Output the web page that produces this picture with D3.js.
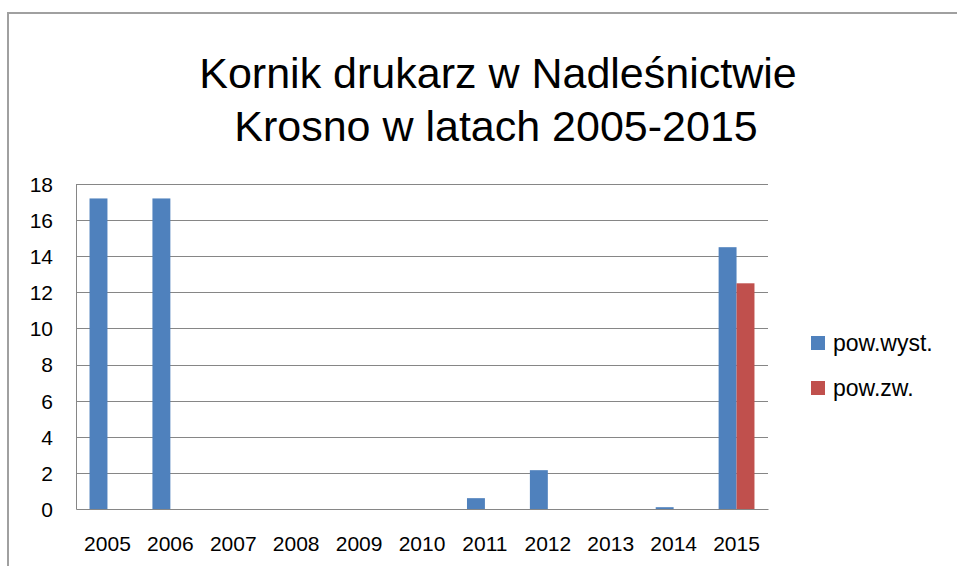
<!DOCTYPE html>
<meta charset="utf-8">
<script src="https://d3js.org/d3.v7.min.js"></script>
<style>
  body { margin: 0; background: #fff; }
  text { font-family: "Liberation Sans", "DejaVu Sans", sans-serif; fill: #000; }
</style>
<div id="chart"></div>
<script>
  // data
  const years = ["2005", "2006", "2007", "2008", "2009", "2010", "2011", "2012", "2013", "2014", "2015"];
  const powWyst = [17.2, 17.2, 0, 0, 0, 0, 0.6, 2.15, 0, 0.1, 14.5];
  const powZw = [0, 0, 0, 0, 0, 0, 0, 0, 0, 0, 12.5];
  const seriesNames = ["pow.wyst.", "pow.zw."];
  const seriesColors = ["#4F81BD", "#C0504D"];
  const yTicks = [0, 2, 4, 6, 8, 10, 12, 14, 16, 18];
  const titleLines = ["Kornik drukarz w Nadleśnictwie", "Krosno w latach 2005-2015"];

  const W = 957, H = 566;
  const margin = {top: 184, right: 189, bottom: 57, left: 76};

  const svg = d3.select("#chart").append("svg")
    .attr("width", W).attr("height", H);

  // outer chart frame (top and left edge visible)
  svg.append("path")
    .attr("d", `M8,${H} L8,13 L${W},13`)
    .attr("fill", "none")
    .attr("stroke", "#a0a0a0")
    .attr("stroke-width", 2);

  // title
  svg.append("g").selectAll("text")
    .data(titleLines)
    .join("text")
      .attr("x", (d, i) => i ? 496 : 498)
      .attr("y", (d, i) => 88 + i * 53)
      .attr("text-anchor", "middle")
      .style("font-size", "43px")
      .text(d => d);

  const x0 = d3.scaleBand()
    .domain(years)
    .range([margin.left, W - margin.right])
    .paddingInner(0.43)
    .paddingOuter(0.215);

  const x1 = d3.scaleBand()
    .domain(seriesNames)
    .range([0, x0.bandwidth()]);

  const y = d3.scaleLinear()
    .domain([0, 18])
    .range([H - margin.bottom, margin.top]);

  // gridlines
  svg.append("g")
    .selectAll("line")
    .data(yTicks.slice(1))
    .join("line")
      .attr("x1", margin.left).attr("x2", W - margin.right)
      .attr("y1", d => Math.round(y(d)) + 0.5).attr("y2", d => Math.round(y(d)) + 0.5)
      .attr("stroke", "#868686");

  // y axis labels
  const yAxis = svg.append("g")
    .attr("transform", `translate(${margin.left},0)`)
    .call(d3.axisLeft(y).tickValues(yTicks).tickSize(0).tickPadding(23));
  yAxis.select(".domain").attr("stroke", "#868686");
  yAxis.selectAll("text").style("font-size", "21px").style("font-family", "Liberation Sans").attr("dy", "0.35em");

  // bars
  const data = years.map((yr, i) => ({year: yr, values: [powWyst[i], powZw[i]]}));
  svg.append("g")
    .selectAll("g")
    .data(data)
    .join("g")
      .attr("transform", d => `translate(${x0(d.year)},0)`)
    .selectAll("rect")
    .data(d => d.values.map((v, j) => ({name: seriesNames[j], value: v, color: seriesColors[j]})))
    .join("rect")
      .attr("x", d => x1(d.name))
      .attr("y", d => y(d.value))
      .attr("width", x1.bandwidth())
      .attr("height", d => y(0) - y(d.value))
      .attr("fill", d => d.color);

  // x axis
  const xAxis = svg.append("g")
    .attr("transform", `translate(0,${H - margin.bottom})`)
    .call(d3.axisBottom(x0).tickSize(0).tickPadding(27));
  xAxis.select(".domain").attr("stroke", "#868686");
  xAxis.selectAll("text").style("font-size", "21px").style("font-family", "Liberation Sans");

  // legend
  const legend = svg.append("g")
    .selectAll("g")
    .data(seriesNames)
    .join("g")
      .attr("transform", (d, i) => `translate(811,${336 + i * 45})`);
  legend.append("rect")
    .attr("width", 14).attr("height", 14)
    .attr("fill", (d, i) => seriesColors[i]);
  legend.append("text")
    .attr("x", 22).attr("y", 7).attr("dy", "0.35em")
    .style("font-size", "23px")
    .text(d => d);
</script>
